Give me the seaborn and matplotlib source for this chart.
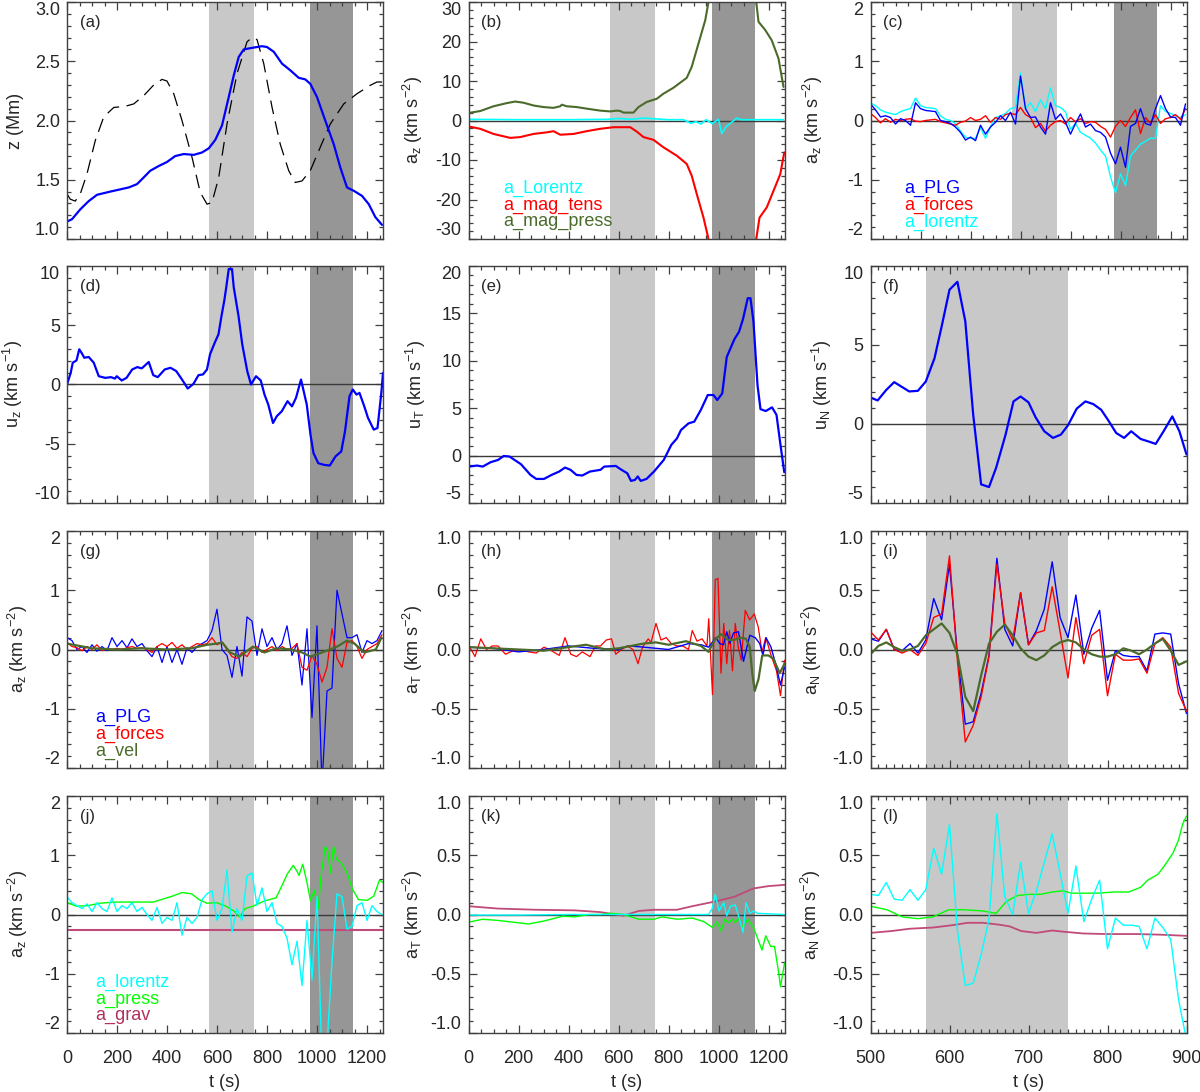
import numpy as np
import matplotlib
matplotlib.use("Agg")
import matplotlib.pyplot as plt
from matplotlib.ticker import MultipleLocator, AutoMinorLocator, FormatStrFormatter
import seaborn as sns

sns.set_style("ticks")
plt.rcParams['font.family'] = ['Liberation Sans', 'DejaVu Sans']
plt.rcParams['mathtext.default'] = 'regular'

# ---------------- data ----------------
# sampling grids for the noisy series
t20 = np.arange(0, 1261, 20)      # 20 s grid, 0..1260 s
t10 = np.arange(500, 901, 10)     # 10 s grid, 500..900 s

# (a) height of the structure (solid) and second track (dashed)
a_t = [0, 20, 53, 87, 120, 173, 247, 280, 307, 333, 367, 400, 433, 467, 507, 540, 567, 593, 620, 647,
       667, 687, 707, 740, 780, 800, 827, 860, 893, 927, 953, 973, 1000, 1033, 1067, 1093, 1120, 1147,
       1180, 1207, 1233, 1260]
a_z = [1.147, 1.167, 1.25, 1.32, 1.373, 1.40, 1.435, 1.463, 1.52, 1.576, 1.616, 1.65, 1.70, 1.717, 1.71,
       1.73, 1.765, 1.836, 1.958, 2.198, 2.38, 2.537, 2.60, 2.613, 2.627, 2.62, 2.58, 2.48, 2.424, 2.36,
       2.347, 2.31, 2.198, 2.0, 1.80, 1.605, 1.435, 1.407, 1.364, 1.294, 1.186, 1.119]
a_dash_t = [0, 13, 33, 53, 80, 113, 147, 187, 233, 267, 307, 347, 380, 400, 427, 460, 500, 533, 560, 580,
            607, 640, 680, 720, 740, 760, 787, 820, 853, 887, 913, 940, 973, 1013, 1053, 1107, 1160, 1213,
            1240, 1260]
a_dash_z = [1.38, 1.336, 1.32, 1.38, 1.55, 1.83, 2.03, 2.11, 2.12, 2.14, 2.21, 2.30, 2.347, 2.333, 2.226,
            2.0, 1.69, 1.393, 1.294, 1.308, 1.52, 1.97, 2.395, 2.664, 2.70, 2.683, 2.48, 2.113, 1.80, 1.576,
            1.477, 1.49, 1.576, 1.774, 1.97, 2.14, 2.226, 2.297, 2.325, 2.325]

# (b)
b_press_t = [0, 47, 100, 153, 187, 220, 260, 300, 340, 367, 373, 393, 433, 473, 527, 567, 593, 607, 620,
             660, 680, 713, 753, 780, 820, 873, 893, 920, 947, 960, 1000, 1100, 1151, 1160, 1187, 1213,
             1240, 1260]
b_press = [1.9, 2.4, 3.6, 4.4, 4.8, 4.5, 3.8, 3.4, 3.2, 3.6, 4.0, 3.6, 3.4, 3.0, 2.5, 2.3, 2.5, 2.4, 2.0,
           2.0, 3.4, 4.7, 5.5, 6.8, 8.3, 10.8, 13.6, 19.5, 25.4, 30.0, 45, 45, 30.0, 25.0, 22.9, 20.3,
           15.7, 8.5]
b_tens_t = [0, 47, 100, 167, 207, 260, 313, 340, 367, 420, 473, 527, 580, 647, 673, 700, 740, 780, 833,
            873, 893, 913, 940, 960, 1000, 1100, 1151, 1164, 1193, 1220, 1247, 1263]
b_tens = [-1.5, -2.1, -3.4, -4.4, -4.2, -3.4, -3.0, -2.7, -3.6, -3.4, -2.7, -2.1, -1.7, -1.7, -2.8, -4.2,
          -4.9, -6.8, -8.9, -11.0, -14.0, -18.6, -24.6, -30, -45, -45, -30, -24.6, -22.0, -17.8, -13.6, -8.1]
b_lor_t = [0, 200, 400, 560, 600, 650, 700, 750, 800, 860, 890, 910, 930, 950, 975, 1000, 1013, 1030,
           1050, 1073, 1090, 1260]
b_lor = [0.3, 0.2, 0.2, 0.3, 0.5, 0.3, 0.6, 0.4, 0.2, 0.2, -0.7, -0.3, -0.9, 0.2, -0.8, 0.3, -3.3, -1.6,
         -0.6, 0.6, 0.2, 0.2]

# (c) on the 20 s grid
c_plg = [0.28, 0.18, 0.06, 0.08, 0.05, -0.06, 0.03, 0.0, -0.08, 0.3,
         0.2, 0.17, 0.16, 0.15, 0.0, -0.02, -0.05, -0.11, -0.2, -0.33,
         -0.28, -0.34, -0.08, -0.23, -0.11, -0.03, 0.08, 0.0, 0.14, -0.06,
         0.75, 0.2, 0.05, 0.06, -0.11, -0.23, 0.3, 0.02, 0.11, -0.03,
         -0.23, -0.05, 0.11, -0.11, -0.06, -0.17, -0.2, -0.28, -0.55, -0.73,
         -0.45, -0.79, -0.1, -0.05, 0.2, -0.05, -0.08, 0.2, 0.42, 0.2,
         0.06, 0.05, -0.08, 0.28]
c_forces = [0.12, 0.05, -0.04, 0.03, -0.03, 0.02, 0.0, 0.02, 0.03, -0.01,
            -0.02, 0.0, 0.01, 0.02, -0.02, -0.04, -0.06, -0.08, -0.03, -0.01,
            0.05, 0.0, 0.02, 0.08, -0.03, 0.05, 0.02, 0.1, 0.12, 0.1,
            0.22, 0.1, 0.05, -0.12, -0.05, -0.18, -0.08, -0.02, 0.0, -0.06,
            0.05, -0.02, 0.03, -0.05, -0.02, -0.03, -0.1, -0.15, -0.28, -0.1,
            0.0, -0.1, 0.05, 0.18, -0.22, 0.05, -0.05, 0.1, -0.05, 0.03,
            0.05, 0.1, 0.02, 0.2]
c_lor = [0.3, 0.25, 0.18, 0.14, 0.12, 0.1, 0.15, 0.18, 0.2, 0.38,
         0.25, 0.22, 0.21, 0.2, 0.08, 0.02, 0.0, -0.05, -0.18, -0.28,
         -0.3, -0.3, -0.12, -0.3, -0.1, 0.05, 0.08, 0.12, 0.2, 0.22,
         0.8, 0.2, 0.3, 0.15, 0.35, 0.2, 0.55, 0.25, 0.22, 0.15,
         -0.15, -0.05, -0.2, -0.25, -0.3, -0.38, -0.5, -0.6, -0.95, -1.22,
         -0.9, -1.1, -0.6, -0.5, -0.4, -0.35, -0.3, -0.3, 0.25, 0.15,
         0.12, 0.08, 0.05, 0.1]

# (d) u_z
d_t = [0, 15, 23, 38, 49, 58, 69, 87, 107, 127, 153, 176, 192, 199, 219, 238, 261, 281, 299, 327,
       345, 363, 391, 414, 437, 460, 483, 506, 526, 544, 560, 572, 591, 606, 618, 629, 637, 647, 660, 667,
       686, 701, 721, 736, 756, 775, 790, 805, 824, 839, 859, 882, 900, 916, 936, 959, 974, 986, 1005, 1028,
       1051, 1074, 1097, 1112, 1130, 1143, 1158, 1170, 1189, 1204, 1227, 1242, 1258, 1264]
d_u = [0, 1.0, 1.84, 2.03, 2.97, 2.68, 2.26, 2.32, 1.84, 0.7, 0.56, 0.62, 0.5, 0.7, 0.34, 0.56, 1.27, 1.47,
       1.36, 1.9, 0.79, 0.62, 1.27, 1.41, 1.13, 0.42, -0.34, 0.06, 0.79, 0.85, 1.27, 2.54, 3.53, 4.24, 5.79,
       7.06, 8.2, 9.75, 9.75, 8.2, 5.79, 3.39, 1.13, 0, 0.7, 0.34, -0.85, -1.69, -3.25, -2.68, -2.26, -1.41,
       -1.84, -1.13, 0.42, -1.69, -4.24, -5.79, -6.64, -6.78, -6.84, -6.07, -5.65, -3.95, -0.99, -0.42,
       -0.85, -0.71, -1.84, -2.82, -3.81, -3.67, -0.56, 0.99]

# (e) u_T
e_t = [3, 34, 57, 88, 118, 141, 164, 210, 248, 271, 302, 332, 363, 386, 408, 432, 455, 486, 528, 543,
       589, 612, 635, 650, 666, 677, 689, 712, 742, 781, 811, 834, 850, 880, 903, 929, 957, 980, 995, 1015,
       1033, 1064, 1082, 1098, 1117, 1128, 1140, 1156, 1168, 1189, 1214, 1232, 1248, 1263]
e_u = [-1.16, -1.05, -1.16, -0.7, -0.46, -0.04, -0.1, -0.91, -2.04, -2.46, -2.46, -2.04, -1.68, -1.26,
       -1.5, -2.04, -2.1, -1.68, -1.5, -1.16, -1.09, -1.5, -1.86, -2.67, -2.56, -2.2, -2.67, -2.46, -1.68,
       -0.46, 1.12, 1.82, 2.7, 3.4, 3.58, 4.8, 6.39, 6.39, 5.86, 6.56, 10.4, 12.3, 13.05, 14.4, 16.6, 16.6,
       14.1, 7.44, 4.9, 4.7, 5.09, 4.3, 1.12, -1.75]

# (f) u_N
f_t = [500, 509, 520, 530, 549, 560, 570, 581, 590, 600, 610, 620, 630, 640, 650, 659, 671, 681, 690, 700,
       709, 720, 731, 741, 750, 761, 772, 782, 792, 801, 811, 821, 830, 842, 851, 861, 871, 882, 891, 900]
f_u = [1.68, 1.49, 2.16, 2.65, 2.06, 2.1, 2.69, 4.16, 6.16, 8.5, 9.0, 6.5, 0.59, -3.82, -3.99, -2.77,
       -0.67, 1.43, 1.74, 1.37, 0.42, -0.46, -0.88, -0.67, -0.08, 0.97, 1.43, 1.26, 0.9, 0.23, -0.57, -0.88,
       -0.46, -0.95, -1.09, -1.26, -0.46, 0.48, -0.46, -1.93]

# (g) a_z on the 20 s grid
g_plg = [0.2, 0.15, 0.0, 0.05, -0.05, 0.08, -0.03, 0.05, -0.02, 0.2,
         0.05, 0.15, 0.03, 0.18, 0.05, 0.1, -0.02, -0.12, 0.05, -0.22,
         0.05, -0.22, 0.0, -0.25, 0.03, -0.05, 0.05, 0.1, 0.15, 0.32,
         0.68, 0.0, -0.1, -0.47, 0.05, -0.45, 0.55, 0.48, -0.1, 0.35,
         0.05, 0.2, 0.0, 0.1, 0.4, -0.1, 0.1, -0.6, 0.35, -1.15,
         0.4, -2.3, -0.7, -0.65, 1.0, 0.6, 0.2, 0.2, 0.25, -0.05,
         0.15, 0.1, 0.15, 0.32]
g_forces = [0.12, 0.05, 0.03, -0.02, 0.05, 0.0, 0.08, -0.02, 0.02, 0.0,
            0.02, 0.0, 0.03, 0.05, 0.02, 0.03, 0.0, -0.05, 0.05, 0.1,
            0.05, 0.12, 0.02, 0.08, 0.0, 0.05, 0.1, 0.08, 0.1, 0.2,
            0.08, 0.12, 0.0, -0.12, -0.15, -0.05, -0.12, 0.02, 0.05, -0.05,
            0.0, 0.05, -0.02, 0.05, 0.0, 0.02, 0.1, -0.3, -0.35, -0.1,
            -0.25, -0.55, -0.3, 0.35, -0.15, -0.3, 0.12, 0.15, 0.05, -0.15,
            0.0, 0.05, 0.1, 0.25]
g_vel_t = [0, 100, 200, 300, 400, 498, 560, 600, 621, 652, 690, 744, 790, 836, 897, 940, 974, 1020, 1051,
           1081, 1120, 1150, 1189, 1235, 1258]
g_vel = [0.1, 0.02, 0.0, 0.02, 0.0, 0.02, 0.08, 0.1, 0.12, -0.05, -0.12, 0.05, -0.05, 0.02, 0.0, -0.05,
         -0.12, -0.05, 0.0, 0.05, 0.15, 0.1, -0.05, 0.0, 0.2]

# (h) a_T
h_forces_t = [3, 26, 49, 72, 95, 118, 148, 179, 210, 240, 271, 302, 332, 363, 386, 409, 432, 455, 486, 508,
              528, 551, 572, 589, 612, 635, 658, 678, 696, 719, 730, 750, 770, 791, 811, 834, 857, 880, 895,
              914, 934, 954, 961, 976, 987, 998, 1010, 1021, 1033, 1044, 1056, 1067, 1079, 1091, 1107, 1125,
              1143, 1159, 1174, 1189, 1209, 1232, 1248, 1264]
h_forces = [0.03, -0.06, 0.09, 0.0, 0.03, 0.03, -0.04, -0.01, 0.0, -0.02, -0.03, 0.02, -0.01, -0.05, 0.1,
            -0.04, -0.06, -0.02, -0.06, 0.03, 0.03, 0.08, 0.09, -0.04, 0.0, 0.03, 0.0, -0.12, 0.02, 0.09,
            0.06, 0.22, 0.08, 0.1, 0.05, 0.03, 0.03, 0.0, 0.16, 0.07, 0.09, 0.03, 0.26, -0.38, 0.59, 0.6,
            -0.2, 0.22, -0.12, 0.16, -0.18, 0.22, 0.02, -0.09, 0.33, 0.25, 0.3, 0.19, -0.02, 0.1, -0.04,
            -0.18, -0.39, -0.09]
h_plg_t = [0, 100, 200, 300, 400, 500, 600, 640, 700, 800, 880, 930, 960, 975, 990, 1005, 1020, 1033, 1045,
           1060, 1080, 1100, 1125, 1147, 1165, 1178, 1190, 1210, 1232, 1248, 1264]
h_plg = [0.02, 0.01, -0.02, 0.0, 0.03, 0.01, 0.0, 0.03, 0.02, 0.0, 0.05, 0.04, 0.02, 0.06, 0.1, 0.05,
         0.04, 0.15, 0.05, 0.14, 0.15, -0.1, 0.12, 0.1, 0.05, -0.05, 0.1, 0.02, -0.15, -0.3, -0.15]
h_vel_t = [0, 100, 200, 300, 400, 470, 550, 600, 650, 700, 750, 800, 870, 930, 960, 985, 1010, 1040, 1060,
           1090, 1110, 1125, 1135, 1145, 1160, 1175, 1200, 1220, 1245, 1264]
h_vel = [0.02, 0.01, 0.0, -0.01, 0.02, 0.04, 0.0, 0.01, 0.03, 0.05, 0.06, 0.04, 0.07, 0.03, -0.02, 0.08,
         0.13, 0.08, 0.08, 0.1, 0.09, 0.02, -0.2, -0.35, -0.25, -0.05, -0.05, -0.08, -0.2, -0.12]

# (i) a_N on the 10 s grid
i_plg = [0.09, 0.07, 0.17, 0.0, -0.01, 0.05, -0.03, 0.08, 0.43, 0.25,
         0.72, -0.04, -0.63, -0.61, -0.37, -0.05, 0.77, 0.17, 0.03, 0.48,
         0.04, 0.16, 0.34, 0.74, 0.27, 0.1, 0.46, -0.04, 0.18, 0.33,
         -0.26, -0.01, -0.05, -0.06, -0.06, -0.18, 0.13, 0.14, 0.13, -0.29, -0.54]
i_forces = [0.15, 0.08, 0.17, 0.0, -0.03, 0.0, -0.05, 0.05, 0.27, 0.3,
            0.79, -0.09, -0.78, -0.64, -0.4, -0.06, 0.72, 0.22, 0.08, 0.48,
            0.04, 0.14, 0.16, 0.53, 0.15, -0.24, 0.27, -0.12, 0.12, 0.17,
            -0.39, -0.04, -0.09, -0.09, -0.08, -0.2, 0.05, 0.1, 0.02, -0.37, -0.52]
i_vel = [-0.04, 0.03, 0.06, 0.02, -0.01, 0.0, 0.03, 0.12, 0.17, 0.22,
         0.14, -0.04, -0.4, -0.52, -0.22, 0.05, 0.15, 0.21, 0.12, 0.01,
         -0.06, -0.09, -0.05, 0.02, 0.06, 0.08, 0.06, 0.0, -0.04, -0.06,
         -0.06, -0.04, 0.01, -0.01, -0.04, 0.0, 0.05, 0.09, -0.01, -0.13, -0.1]

# (j) a_z force terms
j_lor = [0.3, 0.2, 0.15, 0.1, 0.18, 0.05, 0.2, 0.1, 0.05, 0.28,
         0.05, 0.15, 0.1, 0.2, 0.05, 0.12, 0.0, -0.1, 0.12, -0.15,
         -0.05, -0.1, 0.2, -0.35, -0.05, -0.15, -0.05, 0.25,
         0.35, 0.4, -0.1, 0.1, 0.75, -0.3, 0.1, -0.1, 0.65, 0.7,
         0.15, 0.45, 0.05, 0.2, -0.15, -0.2, -0.4, -0.85, -0.45, -1.2,
         -0.1, -1.1, 0.3, -2.5, -2.2, -0.8, 0.35, 0.3, -0.25, -0.2,
         0.15, 0.2, -0.1, 0.15, 0.05, 0.0]
j_press_t = [0, 38, 84, 130, 192, 268, 345, 376, 422, 460, 498, 529, 560, 598, 636, 667, 690, 713, 744,
             790, 836, 859, 882, 905, 920, 928, 943, 959, 974, 989, 1005, 1017, 1033, 1043, 1054, 1066, 1078,
             1097, 1120, 1143, 1166, 1201, 1227, 1250, 1264]
j_press = [0.2, 0.14, 0.15, 0.19, 0.21, 0.21, 0.21, 0.25, 0.31, 0.37, 0.35, 0.25, 0.19, 0.2, 0.14, 0.06,
           -0.04, 0.1, 0.14, 0.23, 0.28, 0.48, 0.69, 0.83, 0.73, 0.66, 0.85, 0.56, 0.23, 0.41, 0.1, 0.68,
           1.15, 1.07, 0.7, 1.15, 0.93, 0.87, 0.7, 0.42, 0.25, 0.24, 0.31, 0.58, 0.54]
j_grav_t = [0, 1264]
j_grav = [-0.27, -0.27]

# (k) a_T force terms
k_grav_t = [0, 118, 271, 424, 528, 620, 681, 742, 834, 895, 987, 1064, 1140, 1201, 1264]
k_grav = [0.07, 0.05, 0.04, 0.035, 0.02, -0.01, 0.03, 0.04, 0.04, 0.07, 0.11, 0.15, 0.22, 0.24, 0.25]
k_press_t = [0, 57, 118, 240, 302, 378, 424, 486, 528, 572, 620, 681, 742, 773, 834, 895, 941, 976, 994,
             1010, 1025, 1040, 1056, 1067, 1079, 1097, 1117, 1140, 1156, 1174, 1189, 1209, 1224, 1240,
             1248, 1264]
k_press = [-0.065, -0.04, -0.05, -0.08, -0.055, -0.014, -0.02, 0.0, 0.0, 0.01, 0.0, -0.04, -0.04, -0.02,
           -0.04, -0.03, -0.06, -0.11, -0.06, -0.14, -0.04, -0.07, -0.04, -0.07, -0.03, -0.11, -0.04, -0.11,
           -0.2, -0.3, -0.18, -0.27, -0.27, -0.48, -0.61, -0.41]
k_lor_t = [0, 200, 400, 600, 800, 960, 975, 987, 1002, 1021, 1033, 1048, 1067, 1083, 1098, 1110, 1125,
           1140, 1156, 1264]
k_lor = [-0.005, -0.005, 0.0, 0.0, 0.0, 0.0, 0.05, 0.17, 0.03, 0.1, -0.01, 0.07, 0.08, -0.03, -0.15, 0.1,
         0.01, 0.03, 0.01, 0.0]

# (l) a_N force terms
l_lor = [0.17, 0.16, 0.27, 0.13, 0.12, 0.21, 0.12, 0.21, 0.56, 0.34,
         0.76, -0.13, -0.6, -0.58, -0.34, -0.04, 0.85, 0.15, 0.0, 0.44,
         0.01, 0.2, 0.44, 0.68, 0.35, 0.01, 0.41, -0.06, 0.13, 0.29,
         -0.29, -0.03, -0.09, -0.09, -0.1, -0.29, -0.03, -0.11, -0.21, -0.72, -1.06]
l_press_t = [500, 521, 540, 560, 579, 599, 618, 642, 659, 672, 686, 701, 715, 730, 744, 754, 771, 788, 808,
             827, 842, 851, 864, 873, 883, 890, 895, 900]
l_press = [0.07, 0.04, -0.02, -0.035, -0.02, 0.04, 0.04, 0.03, 0.01, 0.11, 0.16, 0.17, 0.17, 0.19, 0.2,
           0.18, 0.18, 0.18, 0.19, 0.19, 0.23, 0.29, 0.34, 0.42, 0.52, 0.63, 0.76, 0.83]
l_grav_t = [500, 526, 550, 579, 604, 623, 642, 662, 676, 691, 710, 730, 744, 769, 798, 837, 866, 900]
l_grav = [-0.155, -0.14, -0.12, -0.11, -0.09, -0.07, -0.07, -0.085, -0.1, -0.14, -0.155, -0.135, -0.145,
          -0.16, -0.165, -0.165, -0.17, -0.18]

# shaded intervals (s)
light_span = (567, 746)
dark_span = (973, 1144)
light_span_zoom = (570, 750)

# ---------------- styling ----------------
BLUE = '#0000ff'
RED = '#ff0000'
CYAN = '#00ffff'
OLIVE = '#4b6b2b'
LIME = '#00ff00'
GRAV = '#c04a78'
LIGHT = '#c8c8c8'
DARK = '#969696'

fig = plt.figure(figsize=(12, 10.92), dpi=100)
W, H = 1200.0, 1092.0
col_left = [67, 468.5, 870.5]
row_top = [2, 266, 531, 796]
ax_w, ax_h = 316, 237

axes = []
for r in range(4):
    row = []
    for c in range(3):
        ax = fig.add_axes([col_left[c] / W, 1 - (row_top[r] + ax_h) / H, ax_w / W, ax_h / H])
        row.append(ax)
    axes.append(row)


def line(ax, x, y, color, lw, **kw):
    sns.lineplot(x=x, y=y, ax=ax, color=color, linewidth=lw, sort=False,
                 estimator=None, legend=False, **kw)


def frame(ax, ylim, ystep, fmt, zoom=False, bottom=False, zero=True):
    if zoom:
        ax.set_xlim(500, 900)
        ax.xaxis.set_major_locator(MultipleLocator(100))
        ax.xaxis.set_minor_locator(AutoMinorLocator(10))
        ax.axvspan(*light_span_zoom, color=LIGHT, lw=0, zorder=0)
    else:
        ax.set_xlim(0, 1264)
        ax.xaxis.set_major_locator(MultipleLocator(200))
        ax.xaxis.set_minor_locator(AutoMinorLocator(4))
        ax.axvspan(*light_span, color=LIGHT, lw=0, zorder=0)
        ax.axvspan(*dark_span, color=DARK, lw=0, zorder=0)
    if zero:
        ax.axhline(0, color='#3a3a3a', lw=1.0, zorder=1)
    ax.set_ylim(*ylim)
    ax.set_yticks(np.arange(ylim[0], ylim[1] + ystep * 0.5, ystep))
    ax.yaxis.set_minor_locator(AutoMinorLocator(5))
    ax.yaxis.set_major_formatter(FormatStrFormatter(fmt))
    ax.tick_params(which='both', direction='in', top=True, right=True, labelsize=13,
                   color='#404040', width=0.9)
    ax.tick_params(which='major', length=6)
    ax.tick_params(which='minor', length=3)
    ax.tick_params(axis='y', pad=5)
    for s in ax.spines.values():
        s.set_color('#404040')
        s.set_linewidth(1.0)
    if bottom:
        ax.tick_params(axis='x', pad=12)
        ax.set_xlabel('t (s)', fontsize=13, labelpad=5)
    else:
        ax.tick_params(axis='x', labelbottom=False)
    ax.set_ylabel('')


def finish_ticks(ax):
    ticks = ax.yaxis.get_major_ticks()
    ticks[0].label1.set_va('bottom')
    ticks[-1].label1.set_va('top')


def ylab(ax, text, xc):
    ax.set_ylabel(text, fontsize=13)
    ax.yaxis.set_label_coords(xc + 0.03, 0.5)


def tag(ax, s):
    ax.text(0.04, 0.913, s, transform=ax.transAxes, fontsize=12, va='center', ha='left')


def legend_text(ax, x, items):
    for (s, col), yy in zip(items, [0.213, 0.142, 0.072]):
        ax.text(x, yy, s, color=col, transform=ax.transAxes, fontsize=13, va='center', ha='left')


# (a)
ax = axes[0][0]
frame(ax, (1.0, 3.0), 0.5, '%.1f', zero=False)
line(ax, a_dash_t, a_dash_z, 'black', 0.9, linestyle=(0, (11, 6)))
line(ax, a_t, a_z, BLUE, 1.6)
ylab(ax, 'z (Mm)', -0.165)
tag(ax, '(a)')

# (b)
ax = axes[0][1]
frame(ax, (-30, 30), 10, '%d')
line(ax, b_press_t, b_press, OLIVE, 1.5)
line(ax, b_tens_t, b_tens, RED, 1.5)
line(ax, b_lor_t, b_lor, CYAN, 1.2)
ylab(ax, 'a$_z$ (km s$^{-2}$)', -0.169)
tag(ax, '(b)')
legend_text(ax, 0.11, [('a_Lorentz', CYAN), ('a_mag_tens', RED), ('a_mag_press', OLIVE)])

# (c)
ax = axes[0][2]
frame(ax, (-2, 2), 1, '%d')
line(ax, t20, c_lor, CYAN, 1.0)
line(ax, t20, c_forces, RED, 1.0)
line(ax, t20, c_plg, BLUE, 1.0)
ylab(ax, 'a$_z$ (km s$^{-2}$)', -0.174)
tag(ax, '(c)')
legend_text(ax, 0.107, [('a_PLG', BLUE), ('a_forces', RED), ('a_lorentz', CYAN)])

# (d)
ax = axes[1][0]
frame(ax, (-10, 10), 5, '%d')
line(ax, d_t, d_u, BLUE, 1.6)
ylab(ax, 'u$_z$ (km s$^{-1}$)', -0.164)
tag(ax, '(d)')

# (e)
ax = axes[1][1]
frame(ax, (-5, 20), 5, '%d')
line(ax, e_t, e_u, BLUE, 1.6)
ylab(ax, 'u$_T$ (km s$^{-1}$)', -0.157)
tag(ax, '(e)')

# (f)
ax = axes[1][2]
frame(ax, (-5, 10), 5, '%d', zoom=True)
line(ax, f_t, f_u, BLUE, 1.6)
ylab(ax, 'u$_N$ (km s$^{-1}$)', -0.146)
tag(ax, '(f)')

# (g)
ax = axes[2][0]
frame(ax, (-2, 2), 1, '%d')
line(ax, t20, g_plg, BLUE, 0.9)
line(ax, t20, g_forces, RED, 0.9)
line(ax, g_vel_t, g_vel, OLIVE, 1.6)
ylab(ax, 'a$_z$ (km s$^{-2}$)', -0.146)
tag(ax, '(g)')
legend_text(ax, 0.09, [('a_PLG', BLUE), ('a_forces', RED), ('a_vel', OLIVE)])

# (h)
ax = axes[2][1]
frame(ax, (-1, 1), 0.5, '%.1f')
line(ax, h_forces_t, h_forces, RED, 0.9)
line(ax, h_plg_t, h_plg, BLUE, 1.0)
line(ax, h_vel_t, h_vel, OLIVE, 1.6)
ylab(ax, 'a$_T$ (km s$^{-2}$)', -0.169)
tag(ax, '(h)')

# (i)
ax = axes[2][2]
frame(ax, (-1, 1), 0.5, '%.1f', zoom=True)
line(ax, t10, i_plg, BLUE, 1.0)
line(ax, t10, i_forces, RED, 1.0)
line(ax, t10, i_vel, OLIVE, 1.6)
ylab(ax, 'a$_N$ (km s$^{-2}$)', -0.177)
tag(ax, '(i)')

# (j)
ax = axes[3][0]
frame(ax, (-2, 2), 1, '%d', bottom=True)
line(ax, j_grav_t, j_grav, GRAV, 1.5)
line(ax, j_press_t, j_press, LIME, 1.0)
line(ax, t20, j_lor, CYAN, 1.0)
ylab(ax, 'a$_z$ (km s$^{-2}$)', -0.146)
tag(ax, '(j)')
legend_text(ax, 0.09, [('a_lorentz', CYAN), ('a_press', LIME), ('a_grav', '#b0305e')])

# (k)
ax = axes[3][1]
frame(ax, (-1, 1), 0.5, '%.1f', bottom=True)
line(ax, k_grav_t, k_grav, GRAV, 1.3)
line(ax, k_press_t, k_press, LIME, 1.0)
line(ax, k_lor_t, k_lor, CYAN, 1.0)
ylab(ax, 'a$_T$ (km s$^{-2}$)', -0.169)
tag(ax, '(k)')

# (l)
ax = axes[3][2]
frame(ax, (-1, 1), 0.5, '%.1f', zoom=True, bottom=True)
line(ax, l_grav_t, l_grav, GRAV, 1.3)
line(ax, l_press_t, l_press, LIME, 1.0)
line(ax, t10, l_lor, CYAN, 1.0)
ylab(ax, 'a$_N$ (km s$^{-2}$)', -0.179)
tag(ax, '(l)')

for row in axes:
    for ax in row:
        finish_ticks(ax)

fig.savefig('out.png', dpi=100)
